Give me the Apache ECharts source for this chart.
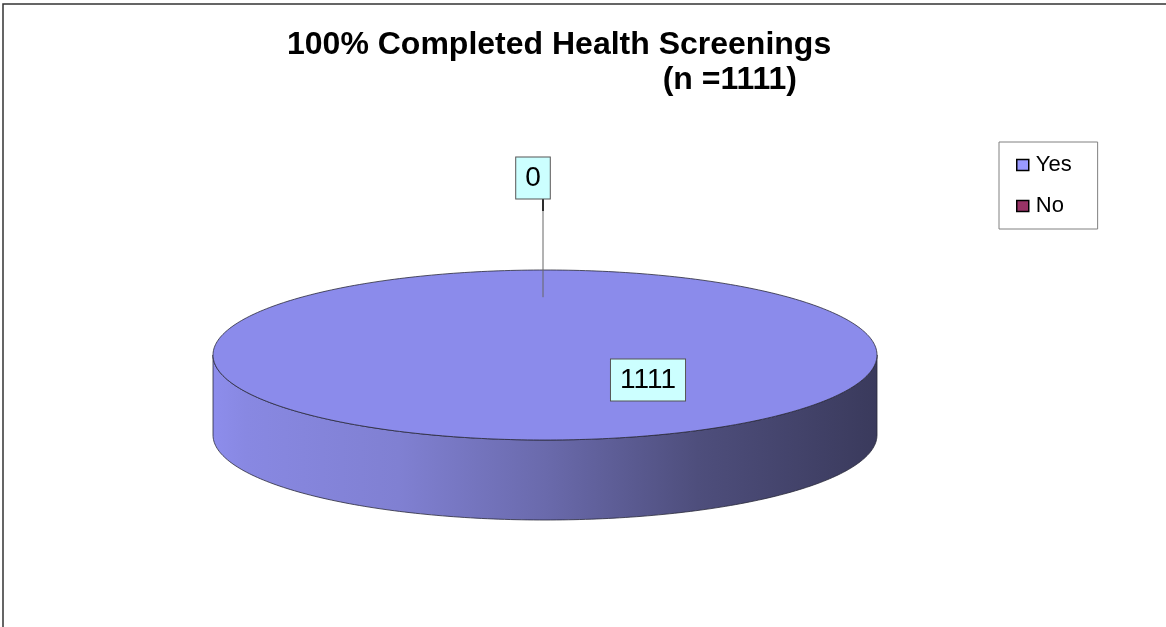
<!DOCTYPE html>
<html>
<head>
<meta charset="utf-8">
<script src="https://cdn.jsdelivr.net/npm/echarts@6/dist/echarts.min.js"></script>
<style>
html,body{margin:0;padding:0;background:#fff;}
#chart{width:1166px;height:627px;}
</style>
</head>
<body>
<div id="chart"></div>
<script>
// ---- data ----
const categories = ['Yes', 'No'];
const values = [1111, 0];
const titleLines = ['100% Completed Health Screenings', '(n =1111)'];

// ---- layout / style ----
const FONT = '"Liberation Sans", Arial, sans-serif';
const colors = ['#9999FF', '#993366'];
const topColors = ['#8B8BEB', '#8A2E5C'];
const CX = 545, CY = 355, RX = 332, RY = 85, DEPTH = 80;
const labelOffsets = [[103, 25], [-12, -177]];

const total = values.reduce((a, b) => a + b, 0);

function pt(theta, dy) {
  return [CX + RX * Math.cos(theta), CY + RY * Math.sin(theta) + (dy || 0)];
}
function arcPts(a, b, dy) {
  const n = Math.max(2, Math.ceil(Math.abs(b - a) / (Math.PI / 180)));
  const out = [];
  for (let k = 0; k <= n; k++) out.push(pt(a + (b - a) * k / n, dy));
  return out;
}

function makeRender(idx) {
  return function (params, api) {
    const v = api.value(0);
    let cum = 0;
    for (let j = 0; j < idx; j++) cum += values[j];
    const a0 = -Math.PI / 2 + 2 * Math.PI * cum / total;
    const a1 = a0 + 2 * Math.PI * v / total;
    const full = v / total > 0.999;
    const children = [];
    const stops = [
      { offset: 0, color: '#8D8DEC' },
      { offset: 0.05, color: '#8888E2' },
      { offset: 0.28, color: '#8080D2' },
      { offset: 0.5, color: '#6A6AAC' },
      { offset: 0.73, color: '#4E4E7C' },
      { offset: 1, color: '#3A3A5C' }
    ];
    if (v > 0) {
      const ranges = [[0, Math.PI], [2 * Math.PI, 3 * Math.PI], [-2 * Math.PI, -Math.PI]];
      ranges.forEach(r => {
        const s = Math.max(a0, r[0]), e = Math.min(a1, r[1]);
        if (e > s) {
          const topArc = arcPts(s, e, 0);
          const botArc = arcPts(e, s, DEPTH);
          children.push({
            type: 'polygon',
            shape: { points: topArc.concat(botArc) },
            style: { fill: new echarts.graphic.LinearGradient(CX - RX, 0, CX + RX, 0, stops, true), stroke: '#2a2a3a', lineWidth: 0.8 }
          });
        }
      });
      let pts;
      if (full) pts = arcPts(a0, a1, 0);
      else pts = [[CX, CY]].concat(arcPts(a0, a1, 0));
      children.push({
        type: 'polygon',
        shape: { points: pts },
        style: { fill: topColors[idx], stroke: '#2a2a3a', lineWidth: 0.8 }
      });
    }
    const off = labelOffsets[idx];
    const lx = CX + off[0], ly = CY + off[1];
    if (!full) {
      const mid = (a0 + a1) / 2;
      const ax = CX + RX * 0.68 * Math.cos(mid) - 2;
      const ay = CY + RY * 0.68 * Math.sin(mid);
      children.push({
        type: 'line',
        shape: { x1: ax, y1: ly + 21, x2: ax, y2: ay },
        style: { stroke: '#666', lineWidth: 1 }
      });
      children.push({
        type: 'line',
        shape: { x1: ax, y1: ly + 21, x2: ax, y2: ly + 33 },
        style: { stroke: '#000', lineWidth: 1.5 }
      });
    }
    children.push({
      type: 'text',
      x: lx, y: ly,
      style: {
        text: String(v),
        fontFamily: FONT,
        fontSize: 28,
        fill: '#000',
        align: 'center',
        verticalAlign: 'middle',
        backgroundColor: '#CCFFFF',
        borderColor: '#555',
        borderWidth: 1,
        padding: [7, 9, 6, 9]
      }
    });
    return { type: 'group', children: children };
  };
}

const titleStyle = {
  fontFamily: FONT,
  fontWeight: 'bold',
  fontSize: 32,
  color: '#000'
};

const chart = echarts.init(document.getElementById('chart'), null, { renderer: 'canvas' });
chart.setOption({
  backgroundColor: '#fff',
  animation: false,
  title: [
    { text: titleLines[0], left: 287, top: 29, padding: 0, textStyle: titleStyle },
    { text: titleLines[1], right: 369, top: 64, padding: 0, textStyle: titleStyle }
  ],
  legend: {
    orient: 'vertical',
    left: 999,
    top: 142,
    data: categories,
    icon: 'rect',
    itemWidth: 12,
    itemHeight: 11,
    itemGap: 19,
    padding: [12, 26, 12, 17],
    borderColor: '#808080',
    borderWidth: 1,
    borderRadius: 0,
    selectedMode: false,
    itemStyle: { borderColor: '#000', borderWidth: 1.5 },
    textStyle: {
      fontFamily: FONT,
      fontSize: 22,
      color: '#000',
      padding: [0, 0, 0, 2]
    }
  },
  graphic: [{
    type: 'rect',
    shape: { x: 3, y: 4, width: 1300, height: 800 },
    style: { fill: 'none', stroke: '#333', lineWidth: 1.5 },
    silent: true
  }],
  series: categories.map((name, i) => ({
    type: 'custom',
    name: name,
    coordinateSystem: 'none',
    itemStyle: { color: colors[i] },
    data: [[values[i]]],
    renderItem: makeRender(i),
    silent: true
  }))
});
</script>
</body>
</html>
